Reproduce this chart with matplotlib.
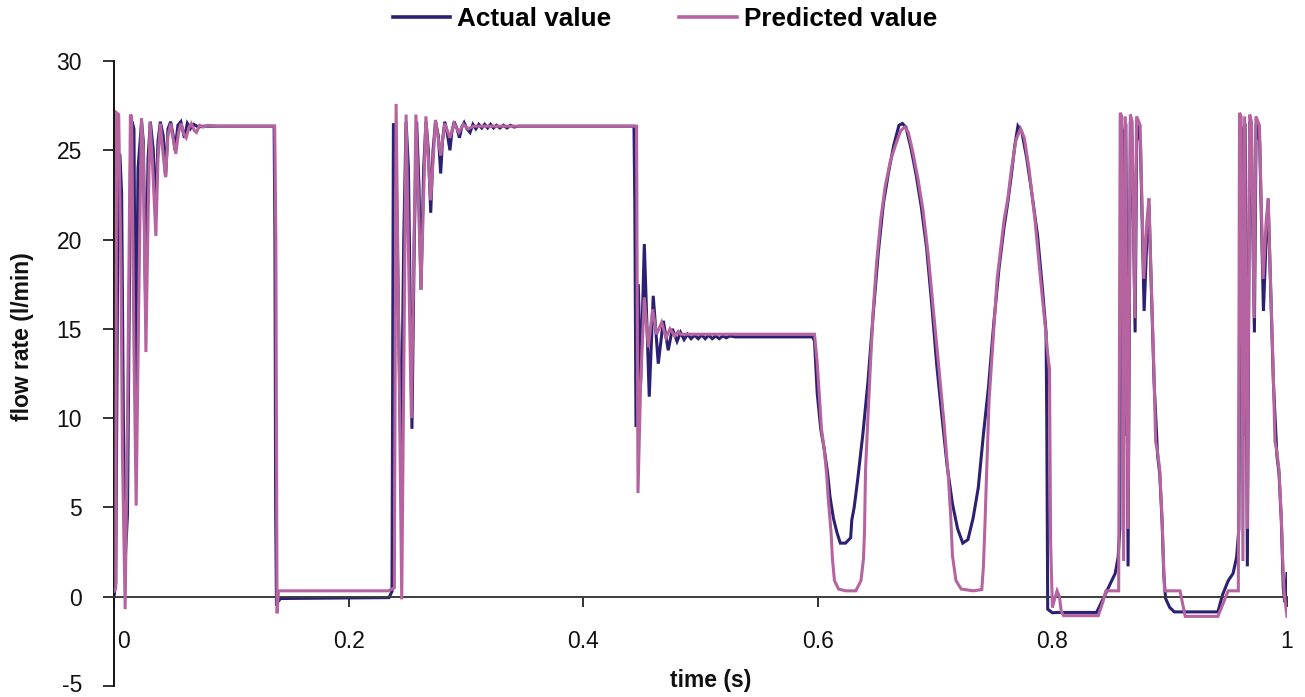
import matplotlib
matplotlib.use("Agg")
import matplotlib.pyplot as plt
from matplotlib.transforms import ScaledTranslation

# ---------------- data ----------------
series_names = ["Actual value", "Predicted value"]

actual_t = [
    0.0000, 0.0015, 0.0035, 0.0050, 0.0065, 0.0080, 0.0095, 0.0115, 0.0140, 0.0155,
    0.0170, 0.0185, 0.0205, 0.0235, 0.0250, 0.0270, 0.0290, 0.0310, 0.0335, 0.0355,
    0.0375, 0.0395, 0.0420, 0.0440, 0.0460, 0.0483, 0.0505, 0.0520, 0.0545, 0.0570,
    0.0600, 0.0625, 0.0650, 0.0680, 0.0720, 0.0760, 0.1365, 0.1372, 0.1378, 0.1385,
    0.1395, 0.1420, 0.2344,
    0.2370, 0.2382, 0.2400, 0.2430, 0.2447, 0.2470, 0.2490, 0.2510, 0.2540, 0.2560,
    0.2580, 0.2600, 0.2617, 0.2640, 0.2660, 0.2680, 0.2700, 0.2720, 0.2741, 0.2765,
    0.2785, 0.2800, 0.2820, 0.2840, 0.2864, 0.2880, 0.2900, 0.2925, 0.2945, 0.2965,
    0.2985, 0.3010, 0.3035, 0.3060, 0.3085, 0.3110, 0.3135, 0.3160, 0.3185, 0.3210,
    0.3235, 0.3260, 0.3290, 0.3320, 0.3350, 0.3380, 0.3410, 0.3450, 0.4433,
    0.4440, 0.4450, 0.4470, 0.4490, 0.4521, 0.4563, 0.4597, 0.4640, 0.4683, 0.4725,
    0.4760, 0.4800, 0.4830, 0.4860, 0.4890, 0.4920, 0.4950, 0.4980, 0.5010, 0.5040,
    0.5070, 0.5100, 0.5130, 0.5160, 0.5190, 0.5220, 0.5250, 0.5296, 0.5957,
    0.5972, 0.5995, 0.6025, 0.6054, 0.6084, 0.6104, 0.6133, 0.6163, 0.6192, 0.6236,
    0.6280, 0.6290, 0.6310, 0.6339, 0.6384, 0.6427, 0.6472, 0.6516, 0.6559, 0.6604,
    0.6648, 0.6692, 0.6721, 0.6751, 0.6795, 0.6839, 0.6883, 0.6928, 0.6971, 0.7015,
    0.7060, 0.7103, 0.7148, 0.7192, 0.7236, 0.7280, 0.7324, 0.7368, 0.7412, 0.7456,
    0.7500, 0.7545, 0.7588, 0.7618, 0.7650, 0.7680, 0.7706, 0.7740, 0.7780, 0.7816,
    0.7874, 0.7917, 0.7946, 0.7952, 0.7960, 0.8000, 0.8040, 0.8377, 0.8448, 0.8505,
    0.8535, 0.8560, 0.8575,
    0.8584, 0.8598, 0.8612, 0.8626, 0.8645, 0.8665, 0.8680, 0.8705, 0.8720, 0.8750,
    0.8782, 0.8805, 0.8823, 0.8838, 0.8867, 0.8897, 0.8915, 0.8935, 0.8950, 0.8965,
    0.9000, 0.9040, 0.9411, 0.9450, 0.9499, 0.9540, 0.9570, 0.9590,
    0.9601, 0.9615, 0.9629, 0.9643, 0.9662, 0.9682, 0.9697, 0.9722, 0.9737, 0.9767,
    0.9799, 0.9822, 0.9840, 0.9855, 0.9884, 0.9914, 0.9932, 0.9952, 0.9968, 0.9980,
    0.9990, 1.0000,
]
actual_v = [
    0.0, 0.8, 23.0, 24.8, 22.6, 10.0, 2.0, 4.6, 24.0, 26.6,
    26.2, 11.0, 24.0, 26.6, 25.5, 16.0, 24.5, 26.6, 25.0, 21.5,
    25.5, 26.6, 25.8, 23.5, 26.2, 26.6, 25.8, 25.0, 26.4, 26.6,
    25.7, 26.5, 26.2, 26.45, 26.3, 26.35, 26.35, 20.0, 5.0, -0.5,
    -0.3, -0.1, -0.05,
    0.3, 26.5, 26.0, 14.0, 7.1, 20.0, 26.6, 24.0, 9.4, 20.0,
    26.6, 23.0, 17.2, 24.0, 26.6, 25.0, 21.5, 25.0, 26.6, 25.8,
    23.7, 25.5, 26.6, 26.0, 25.0, 26.0, 26.6, 26.2, 25.7, 26.3,
    26.55, 26.2, 26.0, 26.45, 26.2, 26.45, 26.25, 26.45, 26.25, 26.45,
    26.25, 26.4, 26.25, 26.4, 26.25, 26.4, 26.3, 26.35, 26.35,
    22.0, 9.5, 17.5, 12.0, 19.75, 11.2, 16.85, 13.05, 15.45, 13.8,
    15.0, 14.3, 14.8, 14.4, 14.7, 14.45, 14.65, 14.45, 14.65, 14.45,
    14.65, 14.45, 14.6, 14.45, 14.6, 14.5, 14.6, 14.55, 14.55,
    14.3, 11.4, 9.4, 8.3, 6.9, 5.6, 4.4, 3.6, 3.0, 3.0,
    3.3, 4.3, 5.0, 6.5, 9.1, 12.0, 15.8, 19.3, 22.0, 23.8,
    25.3, 26.4, 26.5, 26.3, 25.1, 23.6, 21.8, 19.5, 16.4, 12.9,
    10.0, 7.3, 5.2, 3.8, 3.0, 3.2, 4.4, 6.1, 9.1, 11.8,
    15.3, 18.4, 20.7, 22.0, 23.6, 25.3, 26.35, 26.0, 24.6, 23.0,
    20.2, 17.1, 14.8, 10.0, -0.7, -0.9, -0.88, -0.88, 0.1, 0.9,
    1.3, 2.2, 3.8,
    26.5, 26.1, 9.0, 26.5, 1.7, 26.6, 25.5, 14.8, 26.5, 25.5,
    16.0, 20.0, 22.0, 18.5, 12.0, 7.9, 6.9, 4.2, 1.2, -0.1,
    -0.6, -0.85, -0.85, 0.1, 0.9, 1.3, 2.2, 3.8,
    26.5, 26.1, 9.0, 26.5, 1.7, 26.6, 25.5, 14.8, 26.5, 25.5,
    16.0, 20.0, 22.0, 18.5, 12.0, 7.9, 6.9, 4.2, 0.5, -0.3,
    0.2, 1.3,
]

predicted_t = [
    0.0000, 0.0015, 0.0022, 0.0040, 0.0060, 0.0072, 0.0095, 0.0115, 0.0140, 0.0150,
    0.0170, 0.0189, 0.0210, 0.0234, 0.0250, 0.0272, 0.0290, 0.0307, 0.0330, 0.0357,
    0.0375, 0.0395, 0.0415, 0.0439, 0.0460, 0.0483, 0.0505, 0.0527, 0.0550, 0.0571,
    0.0595, 0.0615, 0.0640, 0.0659, 0.0685, 0.0703, 0.0730, 0.0760, 0.0800, 0.0880,
    0.1370, 0.1380, 0.1385, 0.1390, 0.1402, 0.2340,
    0.2390, 0.2405, 0.2453, 0.2490, 0.2535, 0.2574, 0.2617, 0.2659, 0.2700, 0.2741,
    0.2785, 0.2820, 0.2864, 0.2900, 0.2940, 0.2980, 0.3020, 0.3064, 0.4455,
    0.4462, 0.4467, 0.4490, 0.4521, 0.4555, 0.4592, 0.4626, 0.4669, 0.4706, 0.4740,
    0.4780, 0.4810, 0.4829, 0.5972,
    0.5995, 0.6016, 0.6031, 0.6054, 0.6075, 0.6090, 0.6113, 0.6125, 0.6142, 0.6177,
    0.6236, 0.6324, 0.6368, 0.6389, 0.6398, 0.6407, 0.6427, 0.6448, 0.6472, 0.6501,
    0.6536, 0.6575, 0.6619, 0.6663, 0.6707, 0.6742, 0.6772, 0.6810, 0.6854, 0.6898,
    0.6942, 0.6986, 0.7031, 0.7075, 0.7113, 0.7134, 0.7148, 0.7178, 0.7222, 0.7324,
    0.7398, 0.7412, 0.7426, 0.7440, 0.7460, 0.7500, 0.7529, 0.7559, 0.7588, 0.7618,
    0.7650, 0.7690, 0.7729, 0.7760, 0.7800, 0.7850, 0.7900, 0.7932, 0.7966, 0.7975,
    0.7985, 0.8000, 0.8020, 0.8040, 0.8060, 0.8075, 0.8095, 0.8391, 0.8430, 0.8456,
    0.8565,
    0.8578, 0.8592, 0.8607, 0.8622, 0.8645, 0.8665, 0.8680, 0.8703, 0.8718, 0.8748,
    0.8779, 0.8805, 0.8823, 0.8838, 0.8867, 0.8880, 0.8897, 0.8915, 0.8935, 0.8945,
    0.8956, 0.9088, 0.9132, 0.9411, 0.9499, 0.9585,
    0.9595, 0.9609, 0.9624, 0.9639, 0.9662, 0.9682, 0.9697, 0.9720, 0.9735, 0.9765,
    0.9796, 0.9822, 0.9840, 0.9855, 0.9884, 0.9897, 0.9914, 0.9932, 0.9952, 0.9962,
    0.9975, 0.9985, 1.0000,
]
predicted_v = [
    0.3, 0.5, 27.1, 27.0, 18.0, 8.0, -0.7, 10.0, 27.0, 26.9,
    14.0, 5.1, 16.0, 26.8, 25.0, 13.7, 21.0, 26.6, 24.0, 20.2,
    24.5, 26.5, 25.0, 23.5, 25.8, 26.5, 25.6, 24.8, 26.0, 26.5,
    25.9, 25.7, 26.3, 26.5, 26.1, 26.0, 26.4, 26.3, 26.4, 26.35,
    26.35, 20.0, 8.5, -0.93, 0.33, 0.33,
    0.5, 27.6, -0.15, 27.0, 10.0, 27.0, 17.2, 26.9, 22.2, 26.7,
    24.7, 26.5, 25.7, 26.5, 26.0, 26.45, 26.2, 26.35, 26.35,
    15.0, 5.8, 12.0, 16.76, 13.96, 16.1, 14.7, 15.36, 14.5, 15.0,
    14.6, 14.85, 14.7, 14.7,
    13.1, 11.0, 9.4, 8.3, 6.9, 5.4, 3.6, 2.1, 0.9, 0.43,
    0.33, 0.33, 0.9, 2.1, 3.6, 7.1, 10.0, 12.9, 16.0, 18.7,
    21.1, 23.0, 24.4, 25.3, 26.1, 26.3, 26.0, 24.9, 23.4, 21.6,
    19.1, 16.0, 12.9, 9.8, 6.7, 4.4, 2.3, 0.9, 0.43, 0.33,
    0.4, 1.7, 4.2, 7.1, 11.0, 14.9, 17.8, 19.5, 21.1, 22.2,
    23.9, 25.6, 26.2, 25.7, 24.0, 21.2, 17.7, 15.6, 13.2, 12.8,
    3.0, -0.6, -0.1, 0.33, 0.0, -0.8, -1.06, -1.06, -0.3, 0.33,
    0.33,
    27.1, 26.9, 2.0, 26.9, 3.8, 27.0, 26.6, 15.6, 26.9, 26.4,
    17.8, 21.0, 22.3, 18.7, 12.3, 8.7, 8.1, 7.1, 4.4, 2.3,
    0.33, 0.33, -1.1, -1.1, 0.33, 0.33,
    27.1, 26.9, 2.0, 26.9, 3.8, 27.0, 26.6, 15.6, 26.9, 26.4,
    17.8, 21.0, 22.3, 18.7, 12.3, 8.7, 8.1, 7.1, 4.4, 2.3,
    0.3, -0.3, -1.1,
]

x_ticks = [0, 0.2, 0.4, 0.6, 0.8, 1.0]
x_tick_labels = ["0", "0.2", "0.4", "0.6", "0.8", "1"]
y_ticks = [-5, 0, 5, 10, 15, 20, 25, 30]
y_tick_labels = ["-5", "0", "5", "10", "15", "20", "25", "30"]
x_label = "time (s)"
y_label = "flow rate (l/min)"

# ---------------- style ----------------
plt.rcParams["font.family"] = ["Liberation Sans", "DejaVu Sans"]
color_actual = "#2b2072"
color_pred = "#b5649f"

W, H = 1305, 697
fig = plt.figure(figsize=(W / 100, H / 100), dpi=100)
ax = fig.add_axes([114 / W, 11 / H, 1173 / W, 625 / H])

ax.plot(actual_t, actual_v, color=color_actual, lw=2.2, label=series_names[0],
        solid_joinstyle="miter", zorder=2)
ax.plot(predicted_t, predicted_v, color=color_pred, lw=2.2, label=series_names[1],
        solid_joinstyle="miter", zorder=3)

ax.set_xlim(0, 1)
ax.set_ylim(-5, 30)

for s in ("top", "right"):
    ax.spines[s].set_visible(False)
ax.spines["bottom"].set_position(("data", 0))
ax.spines["bottom"].set_color("#3c3c3c")
ax.spines["bottom"].set_linewidth(1.4)
ax.spines["left"].set_color("#111111")
ax.spines["left"].set_linewidth(1.4)

ax.set_xticks(x_ticks)
ax.set_xticklabels(x_tick_labels)
ax.set_yticks(y_ticks)
ax.set_yticklabels(y_tick_labels)
ax.tick_params(axis="x", direction="out", length=7, width=1.2, pad=17,
               labelsize=16.5, colors="#111111")
ax.tick_params(axis="y", direction="out", length=8, width=1.2, pad=15,
               labelsize=16.5, colors="#111111")

# nudge the "0" x label right of the y axis, as in the reference
lbl0 = ax.xaxis.get_major_ticks()[0].label1
lbl0.set_transform(lbl0.get_transform() + ScaledTranslation(9 / 100, 0, fig.dpi_scale_trans))
# keep the "-5" label inside the canvas
lblm5 = ax.yaxis.get_major_ticks()[0].label1
lblm5.set_transform(lblm5.get_transform() + ScaledTranslation(0, 3 / 100, fig.dpi_scale_trans))

fig.text(711 / W, 1 - 680 / H, x_label, ha="center", va="center",
         fontsize=16.5, fontweight="bold", color="#111111")
fig.text(23 / W, 1 - 337 / H, y_label, ha="center", va="center", rotation=90,
         fontsize=16.5, fontweight="bold", color="#111111")

leg = fig.legend(loc="center", bbox_to_anchor=(665 / W, 1 - 19 / H), ncol=2,
                 frameon=False, prop={"size": 18.8, "weight": "bold"},
                 handlelength=2.2, handletextpad=0.27, columnspacing=2.6)
for line in leg.get_lines():
    line.set_linewidth(2.6)

fig.savefig("out.png", dpi=100)
